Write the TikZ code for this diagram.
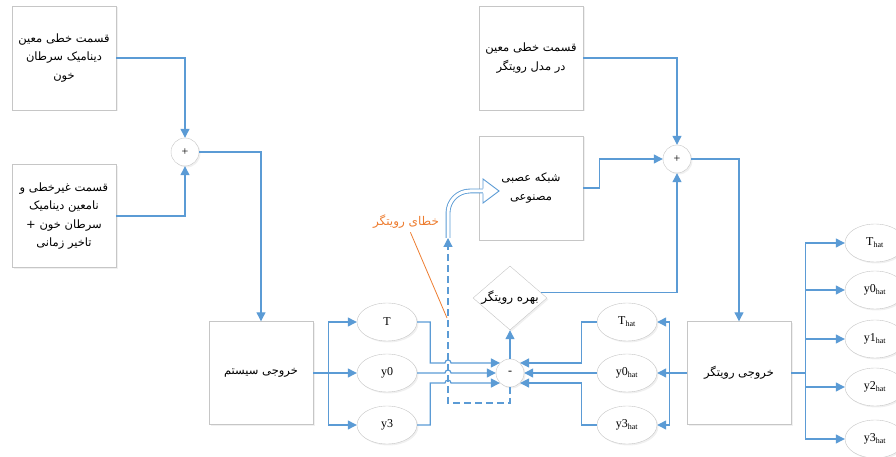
\documentclass[tikz,border=0pt]{standalone}
\usepackage{fontspec}
\setmainfont{Liberation Serif}
\newfontfamily\arabicfont[Script=Arabic]{DejaVu Sans}
\TeXXeTstate=1
\usetikzlibrary{arrows.meta, positioning, calc, shapes.geometric, shadows}
\definecolor{linkblue}{RGB}{91,155,213}
\definecolor{errorange}{RGB}{237,125,49}

\begin{document}
\begin{tikzpicture}[x=1pt, y=1pt,
    softshadow/.style={drop shadow={opacity=0.12, shadow xshift=1.5pt, shadow yshift=-1.5pt}},
    block/.style={draw=gray!45, fill=white, softshadow, minimum width=104pt, minimum height=104pt,
        inner sep=2pt, align=center, font=\arabicfont\fontsize{11.5}{18.5}\selectfont},
    sumnode/.style={circle, draw=gray!45, fill=white, softshadow, minimum size=28pt, inner sep=0pt,
        font=\fontsize{12}{12}\selectfont},
    oval/.style={ellipse, draw=gray!45, fill=white, softshadow, minimum width=60pt, minimum height=38pt,
        inner sep=0pt, font=\fontsize{12}{12}\selectfont},
    gate/.style={diamond, draw=gray!45, fill=white, softshadow, minimum width=74pt, minimum height=64pt,
        inner sep=0pt, font=\arabicfont\fontsize{12}{12}\selectfont},
    conn/.style={draw=linkblue, line width=1.2pt},
    arr/.style={conn, -{Triangle[length=9pt, width=9pt]}},
]
    \useasboundingbox (0,0) rectangle (896,457);

    \node[block] (lin) at (64,399) {\beginR قسمت خطی معین\endR\\\beginR دینامیک سرطان\endR\\\beginR خون\endR};
    \node[block, minimum height=103pt] (nonlin) at (64,241) {\beginR قسمت غیرخطی و\endR\\\beginR نامعین دینامیک\endR\\\beginR سرطان خون +\endR\\\beginR تاخیر زمانی\endR};
    \node[sumnode] (sum1) at (185,305) {+};
    \node[block, minimum height=103pt] (sysout) at (261,84) {\beginR خروجی سیستم\endR};

    \node[oval] (T) at (387,135) {T};
    \node[oval] (y0) at (387,84) {y0};
    \node[oval] (y3) at (387,32) {y3};

    \node[sumnode] (minus) at (510,84) {-};
    \node[gate] (gain) at (510,159) {\makebox[0pt]{\beginR بهره رویتگر\endR}};

    \node[block] (linobs) at (531,399) {\beginR قسمت خطی معین\endR\\\beginR در مدل رویتگر\endR};
    \node[block] (ann) at (531,269) {\beginR شبکه عصبی\endR\\\beginR مصنوعی\endR};
    \node[sumnode] (sum2) at (677,298) {+};
    \node[block, minimum height=103pt] (obsout) at (739,84) {\beginR خروجی رویتگر\endR};

    \node[oval] (Th) at (627,135) {T\textsubscript{hat}};
    \node[oval] (y0h) at (627,84) {y0\textsubscript{hat}};
    \node[oval] (y3h) at (627,32) {y3\textsubscript{hat}};

    \draw[arr] (lin) -| (sum1);
    \draw[arr] (nonlin) -| (sum1);
    \draw[arr] (sum1) -| (sysout);

    \draw[conn] (sysout.east) -- ++(15,0) coordinate (br1);
    \draw[arr] (br1) |- (T);
    \draw[arr] (sysout) -- (y0);
    \draw[arr] (br1) |- (y3);

    \coordinate (errx) at (448,54);
    \coordinate (errtail) at (448,219);
    \coordinate (nnin) at (483,266);
    \draw[arr, dash pattern=on 7pt off 4pt] (minus.south) |- (errx) -- (errtail);
    \draw[draw=linkblue, line width=0.9pt, double=white, double distance=3pt]
        (errtail) -- ++(0,25) arc[start angle=180, end angle=90, radius=22] -- (nnin);
    \fill[white] (nnin) ++(0,12) -- ++(16,-12) -- ++(-16,-12) -- cycle;
    \draw[draw=linkblue, line width=0.9pt] (nnin) ++(0,2.4) -- ++(0,9.6) -- ++(16,-12) -- ++(-16,-12) -- ++(0,9.6);

    \draw[arr] (T.east) -- ++(13,0) |- ($(errx |- minus.135)+(-3,0)$)
        arc[start angle=180, end angle=0, radius=3] -- (minus.135);
    \draw[arr] (y0) -- ($(errx |- y0)+(-3,0)$)
        arc[start angle=180, end angle=0, radius=3] -- (minus);
    \draw[arr] (y3.east) -- ++(13,0) |- ($(errx |- minus.-135)+(-3,0)$)
        arc[start angle=180, end angle=0, radius=3] -- (minus.-135);

    \draw[conn] (obsout.west) -- ++(-17,0) coordinate (br2);
    \draw[arr] (br2) |- (Th);
    \draw[arr] (obsout) -- (y0h);
    \draw[arr] (br2) |- (y3h);

    \draw[arr] (Th.west) -- ++(-15,0) |- (minus.45);
    \draw[arr] (y0h) -- (minus);
    \draw[arr] (y3h.west) -- ++(-15,0) |- (minus.-45);

    \draw[arr] (minus) -- (gain);
    \draw[arr] (gain.10) -| (sum2);
    \draw[arr] (linobs) -| (sum2);
    \draw[arr] (ann.east) -- ++(16,0) |- (sum2);
    \draw[arr] (sum2) -| (obsout);

    \draw[conn] (obsout.east) -- ++(14,0) coordinate (br3);
    \foreach \yy/\lbl [count=\i] in {214/T, 167/y0, 118/y1, 70/y2, 18/y3} {
        \node[oval] (out\i) at (875,\yy) {\lbl\textsubscript{hat}};
        \draw[arr] (br3) |- (out\i);
    }

    \node[text=errorange, font=\arabicfont\fontsize{12}{12}\selectfont] (errlbl) at (406,235) {\beginR خطای رویتگر\endR};
    \coordinate (errend) at (447,139);
    \draw[errorange, line width=0.8pt] (errlbl) -- (errend);
\end{tikzpicture}
\end{document}
